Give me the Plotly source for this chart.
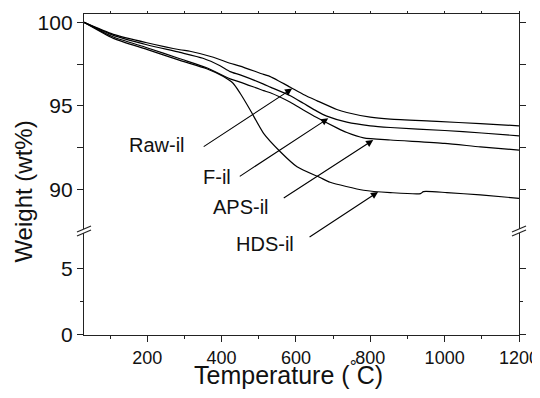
import plotly.graph_objects as go

# ---- data ----
temp_raw = [30, 109, 199, 288, 315, 378, 423, 450, 513, 531, 585, 620, 656, 710, 737, 800, 854, 979, 1096, 1200]
w_raw = [100, 99.28, 98.78, 98.36, 98.27, 97.91, 97.55, 97.38, 96.88, 96.75, 96.11, 95.68, 95.31, 94.78, 94.6, 94.32, 94.2, 94.07, 93.93, 93.8]

temp_f = [30, 109, 199, 288, 350, 396, 423, 450, 513, 531, 585, 620, 656, 683, 737, 800, 854, 1000, 1100, 1200]
w_f = [100, 99.22, 98.66, 98.2, 97.85, 97.4, 97.05, 96.85, 96.3, 96.12, 95.6, 95.15, 94.68, 94.38, 94.02, 93.8, 93.7, 93.52, 93.37, 93.2]

temp_aps = [30, 109, 199, 288, 360, 423, 450, 513, 531, 585, 620, 656, 710, 737, 782, 854, 1000, 1096, 1200]
w_aps = [100, 99.12, 98.48, 97.82, 97.28, 96.61, 96.42, 95.91, 95.78, 95.21, 94.75, 94.3, 93.68, 93.4, 93.08, 92.95, 92.75, 92.54, 92.35]

temp_hds = [30, 109, 199, 288, 360, 405, 431, 450, 477, 513, 558, 603, 665, 692, 782, 854, 935, 943, 1006, 1096, 1200]
w_hds = [100, 99.04, 98.38, 97.72, 97.22, 96.75, 96.35, 95.75, 94.75, 93.35, 92.25, 91.35, 90.7, 90.42, 89.94, 89.8, 89.74, 89.86, 89.8, 89.66, 89.46]

series_names = ["Raw-il", "F-il", "APS-il", "HDS-il"]
# arrow tips (temperature, weight) on each curve
arrow_tip_t = [590, 687, 808, 821]
arrow_tip_w = [96.03, 94.25, 92.95, 89.84]

x_ticks = [200, 400, 600, 800, 1000, 1200]
y_top_ticks = [90, 95, 100]
y_bot_ticks = [0, 5]

FONT = "Liberation Sans, Arial, sans-serif"
BREAK = 0.324

fig = go.Figure()
for t, w, n in [(temp_raw, w_raw, series_names[0]), (temp_f, w_f, series_names[1]),
                (temp_aps, w_aps, series_names[2]), (temp_hds, w_hds, series_names[3])]:
    fig.add_trace(go.Scatter(x=t, y=w, name=n, mode="lines", xaxis="x", yaxis="y2",
                             line=dict(color="black", width=1.2, shape="spline", smoothing=0.6),
                             showlegend=False))
# empty helper traces so the lower panel and the top frame axis are drawn
fig.add_trace(go.Scatter(x=[None], y=[None], xaxis="x", yaxis="y", showlegend=False, hoverinfo="skip"))
fig.add_trace(go.Scatter(x=[None], y=[None], xaxis="x2", yaxis="y2", showlegend=False, hoverinfo="skip"))

axis_line = dict(showline=True, linecolor="#222", linewidth=1.3, showgrid=False, zeroline=False,
                 automargin=False)
XR = [30, 1200.01]

# page body has an 8px margin; keep the page height within the window (no scrollbar)
fig.update_layout(
    width=532, height=382,
    margin=dict(l=76, r=21, t=6, b=55),
    paper_bgcolor="white", plot_bgcolor="white",
    font=dict(family=FONT, color="#111", size=18),
    xaxis=dict(range=XR, anchor="y", tickvals=x_ticks, ticks="outside", ticklen=6,
               tickcolor="#222", tickwidth=1.2,
               minor=dict(tickvals=[100, 300, 500, 700, 900, 1100], ticks="outside", ticklen=3,
                          tickcolor="#222"),
               **axis_line),
    xaxis2=dict(range=XR, overlaying="x", anchor="y2", side="top",
                showticklabels=False, dtick=100, tick0=0, ticks="outside", ticklen=2,
                tickcolor="#222", **axis_line),
    yaxis=dict(domain=[0, BREAK], range=[0, 7.8], tickvals=y_bot_ticks, ticks="outside",
               ticklen=6, tickcolor="#222", tickwidth=1.2, mirror="allticks", anchor="x",
               tickfont=dict(size=21),
               minor=dict(tickvals=[2.5], ticks="outside", ticklen=3, tickcolor="#222"),
               **axis_line),
    yaxis2=dict(domain=[BREAK, 1], range=[87.5, 100.5], tickvals=y_top_ticks, ticks="outside",
                ticklen=6, tickcolor="#222", tickwidth=1.2, mirror="allticks", anchor="x",
                tickfont=dict(size=21),
                minor=dict(tickvals=[92.5, 97.5], ticks="outside", ticklen=3, tickcolor="#222"),
                **axis_line),
)

# axis titles
fig.add_annotation(text="Weight (wt%)", xref="paper", yref="paper", x=-0.14, y=0.447,
                   textangle=-90, showarrow=False, font=dict(size=24), xanchor="center", yanchor="middle")
fig.add_annotation(text="Temperature (<sup>°</sup>C)", xref="paper", yref="paper", x=0.47, y=-0.118,
                   showarrow=False, font=dict(size=25), xanchor="center", yanchor="middle")

# series labels (paper positions) and arrows
label_pos = [(0.168, 0.592), (0.306, 0.492), (0.361, 0.399), (0.416, 0.2835)]
arrow_off = [(-90, 59), (-90, 59), (-91, 59), (-70, 46)]
for name, (lx, ly), tt, tw, (ax, ay) in zip(series_names, label_pos, arrow_tip_t, arrow_tip_w, arrow_off):
    fig.add_annotation(text=name, xref="paper", yref="paper", x=lx, y=ly, showarrow=False,
                       font=dict(size=20), xanchor="center", yanchor="middle")
    fig.add_annotation(text="", x=tt, y=tw, xref="x", yref="y2", ax=ax, ay=ay,
                       showarrow=True, arrowhead=2, arrowsize=1.3, arrowwidth=1.1,
                       arrowcolor="black", standoff=0, startstandoff=0)

# axis break marks
for xa in [0, 1]:
    fig.add_shape(type="rect", xref="paper", yref="paper", xsizemode="pixel", ysizemode="pixel",
                  xanchor=xa, yanchor=BREAK, x0=-3, x1=3, y0=-2, y1=2,
                  fillcolor="white", line=dict(width=0), layer="above")
    for dy in [-2, 2]:
        fig.add_shape(type="line", xref="paper", yref="paper", xsizemode="pixel", ysizemode="pixel",
                      xanchor=xa, yanchor=BREAK, x0=-7, x1=7, y0=dy - 3, y1=dy + 3,
                      line=dict(color="#222", width=1.2), layer="above")

fig.write_html("out.html")
